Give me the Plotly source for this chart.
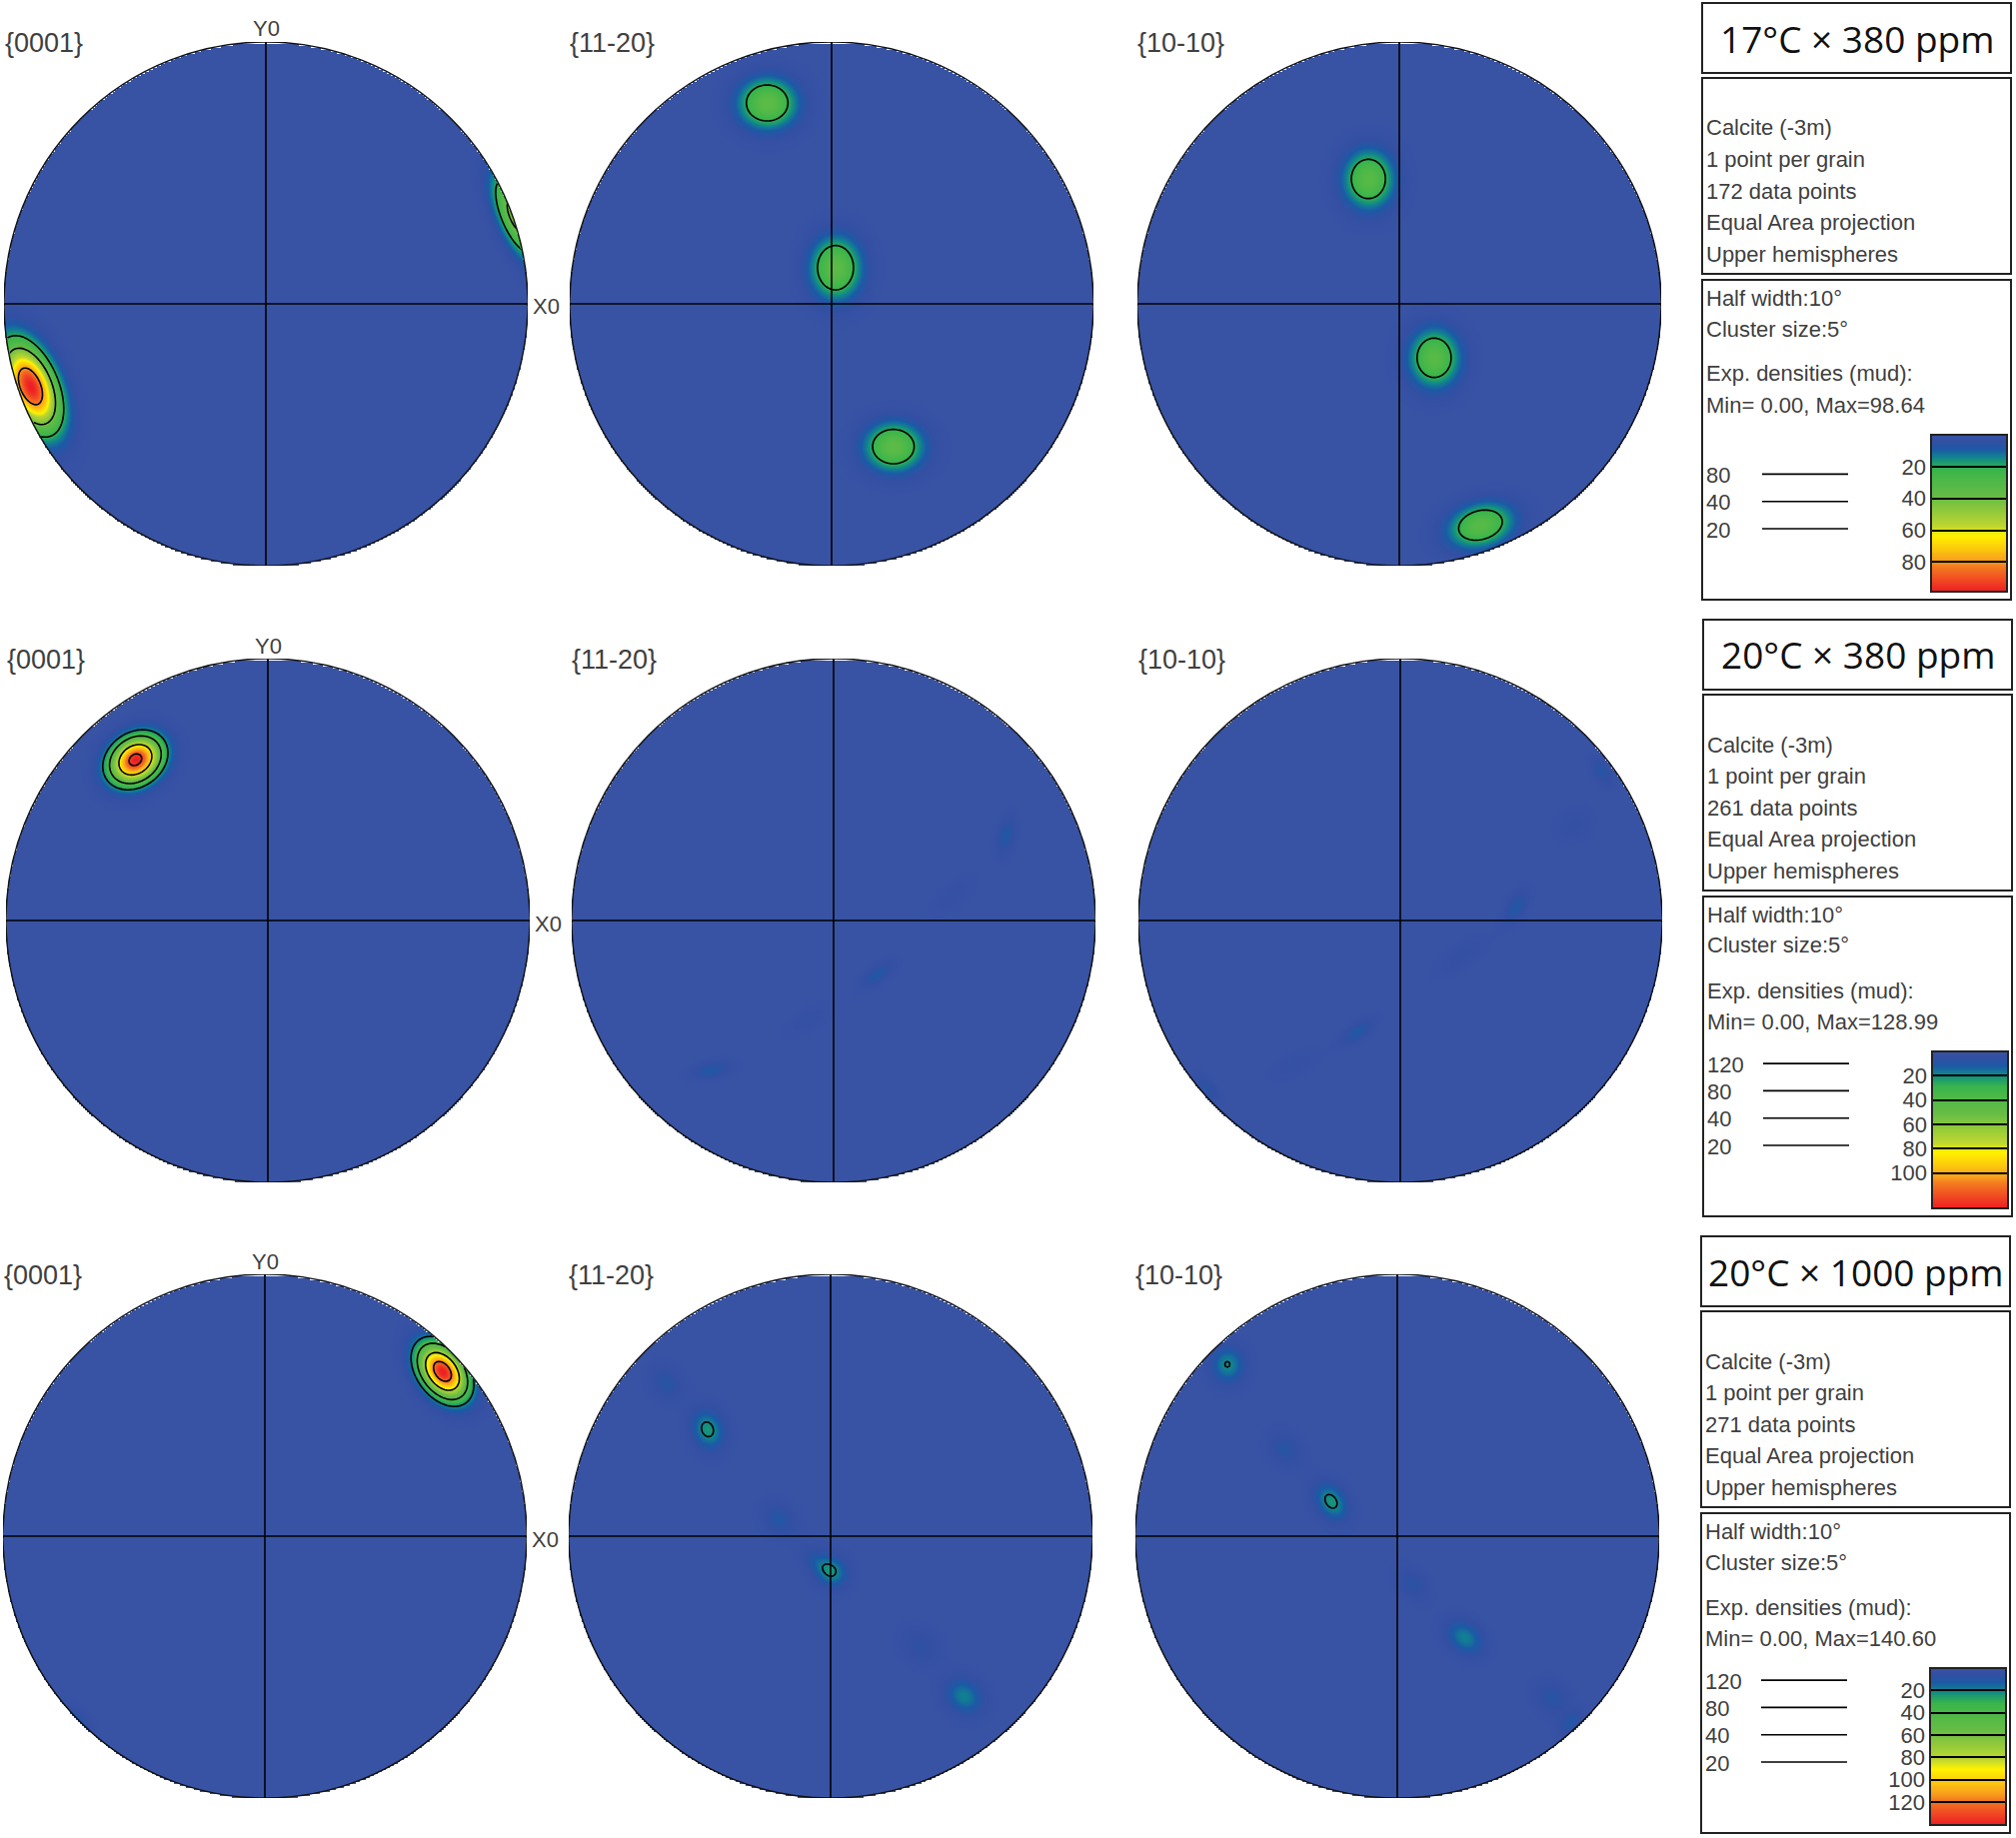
import numpy as np
import plotly.graph_objects as go

W, H = 2017, 1839
FONT = 'Liberation Sans'
TEXT = '#3f3f3f'

# pole figures, left to right, top to bottom
FIGURE_NAMES = ['{0001}', '{11-20}', '{10-10}']
ROW_TITLES = ['17°C × 380 ppm', '20°C × 380 ppm', '20°C × 1000 ppm']
ROW_POINTS = [172, 261, 271]
ROW_MAX = [98.64, 128.99, 140.60]
ROW_CONTOURS = [[80, 40, 20], [120, 80, 40, 20], [120, 80, 40, 20]]
ROW_TICKS = [[20, 40, 60, 80], [20, 40, 60, 80, 100], [20, 40, 60, 80, 100, 120]]

# density maxima (unit circle coordinates)
SPOT_PANEL = [0, 0,
              1, 1, 1,
              2, 2, 2,
              3,
              4, 4, 4, 4, 4,
              5, 5, 5, 5, 5, 5, 5,
              6, 6,
              7, 7, 7, 7, 7, 7, 7,
              8, 8, 8, 8, 8, 8, 8]
SPOT_X = [-.899, .955,
          -.246, .015, .236,
          -.118, .133, .310,
          -.506,
          .656, .454, .164, -.100, -.470,
          .767, .665, .440, .230, -.164, -.405, -.737,
          .678, -.730,
          -.470, -.630, -.200, .003, -.060, .340, .508,
          -.649, -.430, -.253, .058, .256, .590, .660]
SPOT_Y = [-.315, .335,
          .767, .138, -.545,
          .477, -.206, -.845,
          .614,
          .328, .100, -.206, -.380, -.570,
          .573, .370, .053, -.137, -.424, -.550, -.640,
          .629, -.710,
          .408, .585, .065, -.134, -.090, -.420, -.610,
          .656, .332, .133, -.182, -.386, -.615, -.710]
SPOT_MAJOR = [.115, .115,
              .075, .080, .075,
              .075, .075, .085,
              .069,
              .050, .070, .050, .070, .055,
              .040, .050, .050, .075, .050, .070, .040,
              .076, .050,
              .055, .050, .050, .045, .045, .055, .055,
              .050, .050, .055, .050, .055, .050, .040]
SPOT_MINOR = [.060, .042,
              .065, .065, .062,
              .065, .065, .055,
              .054,
              .025, .030, .022, .030, .022,
              .022, .040, .024, .030, .022, .030, .020,
              .050, .030,
              .042, .040, .040, .040, .030, .045, .045,
              .045, .040, .038, .035, .040, .040, .025]
SPOT_ANGLE = [-67, -67,
              0, 90, 0,
              90, 90, 15,
              35,
              75, 40, 35, 30, 10,
              -60, 30, 60, 35, 35, 25, -50,
              -53, -45,
              -70, -50, -45, -45, -45, -45, -40,
              90, -45, -55, -45, -40, -45, 45]
SPOT_PEAK = [98.6, 47,
             35, 35, 35,
             33, 33, 33,
             129,
             10, 3, 10, 3, 10,
             9, 4, 10, 4, 10, 3, 8,
             140.6, 13,
             23, 9, 10, 21, 8, 7, 19,
             20.5, 9, 23, 8, 19, 9, 10]

COLORSCALE = [[0, '#3853a4'], [.04, '#334fa3'], [.09, '#1b5aa6'], [.14, '#10848f'],
              [.17, '#1c9a70'], [.22, '#39b54a'], [.40, '#69bd45'], [.58, '#bfd730'],
              [.64, '#fff200'], [.80, '#f9a01b'], [.84, '#f47b20'], [1, '#ed1c24']]

CENTER_X = [[266, 832, 1400], [268, 834, 1401], [265, 831, 1398]]
CENTER_Y = [304, 921, 1537]
RADIUS = 262

fig = go.Figure()
shapes = []
annotations = []


def px_x(v):
    return v / W


def px_y(v):
    return 1 - v / H


def label(x, y, text, size=22, anchor='left', family=FONT, color=TEXT):
    annotations.append(dict(x=px_x(x), y=px_y(y), xref='paper', yref='paper', text=text,
                            showarrow=False, xanchor=anchor, yanchor='middle', align=anchor,
                            font=dict(family=family, size=size, color=color)))


def box(x0, y0, x1, y1):
    shapes.append(dict(type='rect', xref='paper', yref='paper', x0=px_x(x0), x1=px_x(x1),
                       y0=px_y(y1), y1=px_y(y0), line=dict(color='#222222', width=2)))


def density(panel):
    grid = np.linspace(-1, 1, 263)
    xx, yy = np.meshgrid(grid, grid)
    z = np.zeros_like(xx)
    for i, p in enumerate(SPOT_PANEL):
        if p != panel:
            continue
        a = np.radians(SPOT_ANGLE[i])
        u = (xx - SPOT_X[i]) * np.cos(a) + (yy - SPOT_Y[i]) * np.sin(a)
        v = -(xx - SPOT_X[i]) * np.sin(a) + (yy - SPOT_Y[i]) * np.cos(a)
        z += SPOT_PEAK[i] * np.exp(-.5 * ((u / SPOT_MAJOR[i]) ** 2 + (v / SPOT_MINOR[i]) ** 2))
    z[xx ** 2 + yy ** 2 > 1] = np.nan
    return grid, z


axis_id = 0
for row in range(3):
    for col in range(3):
        axis_id += 1
        cx, cy = CENTER_X[row][col], CENTER_Y[row]
        suffix = '' if axis_id == 1 else str(axis_id)
        grid, z = density(axis_id - 1)
        fig.add_trace(go.Heatmap(x=grid, y=grid, z=z, zmin=0, zmax=ROW_MAX[row], zsmooth='best',
                                 colorscale=COLORSCALE, showscale=False, hoverinfo='skip',
                                 xaxis='x' + suffix, yaxis='y' + suffix))
        for level in ROW_CONTOURS[row]:
            if np.nanmax(z) > level:
                fig.add_trace(go.Contour(x=grid, y=grid, z=z, showscale=False, hoverinfo='skip',
                                         contours=dict(start=level, end=level, size=1, coloring='none'),
                                         line=dict(color='black', width=1.6, smoothing=0),
                                         xaxis='x' + suffix, yaxis='y' + suffix))
        fig.layout['xaxis' + suffix] = dict(domain=[px_x(cx - RADIUS), px_x(cx + RADIUS)], range=[-1, 1],
                                            visible=False, anchor='y' + suffix)
        fig.layout['yaxis' + suffix] = dict(domain=[px_y(cy + RADIUS), px_y(cy - RADIUS)], range=[-1, 1],
                                            visible=False, anchor='x' + suffix)
        ref = dict(xref='x' + suffix, yref='y' + suffix)
        line = dict(color='black', width=1.6)
        shapes.append(dict(type='circle', x0=-1, x1=1, y0=-1, y1=1, line=dict(color='#111111', width=1.5), **ref))
        shapes.append(dict(type='line', x0=-1, x1=1, y0=0, y1=0, line=line, **ref))
        shapes.append(dict(type='line', x0=0, x1=0, y0=-1, y1=1, line=line, **ref))
        label(cx - RADIUS - (2 if col else 1), cy - 261, FIGURE_NAMES[col], size=27)
        if col == 0:
            label(cx, cy - 275, 'Y0', anchor='center')
            label(cx + RADIUS + 18, cy + 3, 'X0', anchor='center')

# side panels
ROW_DX = [0, 1, -1]
ROW_DY = [0, 617, 1234]
for row in range(3):
    dx, dy = ROW_DX[row], ROW_DY[row]
    x0, x1 = 1703 + dx, 2012 + dx
    box(x0, 3 + dy, x1, 73 + dy)
    box(x0, 78 + dy, x1, 274 + dy)
    box(x0, 280 + dy, x1, 600 + dy)
    label((x0 + x1) / 2, 38 + dy, ROW_TITLES[row], size=37, anchor='center', family='Open Sans', color='#111111')

    info = ['Calcite (-3m)', '1 point per grain', f'{ROW_POINTS[row]} data points',
            'Equal Area projection', 'Upper hemispheres']
    for i, text in enumerate(info):
        label(x0 + 2, 128 + 31.5 * i + dy, text)
    label(x0 + 2, 298 + dy, 'Half width:10°')
    label(x0 + 2, 329 + dy, 'Cluster size:5°')
    label(x0 + 2, 374 + dy, 'Exp. densities (mud):')
    label(x0 + 2, 405 + dy, f'Min= 0.00, Max={ROW_MAX[row]:.2f}')

    levels = ROW_CONTOURS[row]
    for i, level in enumerate(levels):
        y = 529 - 27.3 * (len(levels) - 1 - i) + dy
        label(x0 + 2, y + 1, str(level))
        shapes.append(dict(type='line', xref='paper', yref='paper', x0=px_x(x0 + 60), x1=px_x(x0 + 146),
                           y0=px_y(y), y1=px_y(y), line=dict(color='black', width=1.6)))

    # density scale
    axis_id += 1
    scale = np.linspace(0, ROW_MAX[row], 160)
    bx0, bx1, by0, by1 = 1932 + dx, 2008 + dx, 435 + dy, 592 + dy
    fig.add_trace(go.Heatmap(x=[0, 1], y=scale, z=np.column_stack([scale, scale]), zmin=0, zmax=ROW_MAX[row],
                             colorscale=COLORSCALE, showscale=False, hoverinfo='skip', zsmooth='best',
                             xaxis=f'x{axis_id}', yaxis=f'y{axis_id}'))
    fig.layout[f'xaxis{axis_id}'] = dict(domain=[px_x(bx0), px_x(bx1)], range=[0, 1], visible=False,
                                         anchor=f'y{axis_id}')
    fig.layout[f'yaxis{axis_id}'] = dict(domain=[px_y(by1), px_y(by0)], range=[ROW_MAX[row], 0],
                                         anchor=f'x{axis_id}', side='left', tickvals=ROW_TICKS[row],
                                         ticks='inside', ticklen=bx1 - bx0, tickcolor='black', tickwidth=1.6,
                                         showgrid=False, zeroline=False, layer='above traces',
                                         ticklabelstandoff=4,
                                         tickfont=dict(family=FONT, size=22, color=TEXT))
    box(bx0, by0, bx1, by1)

fig.update_layout(width=W, height=H, margin=dict(l=0, r=0, t=0, b=0), paper_bgcolor='white',
                  plot_bgcolor='rgba(0,0,0,0)', showlegend=False, shapes=shapes, annotations=annotations)
fig.write_html('out.html', config={'displayModeBar': False},
               post_script="document.body.style.margin='0';")
